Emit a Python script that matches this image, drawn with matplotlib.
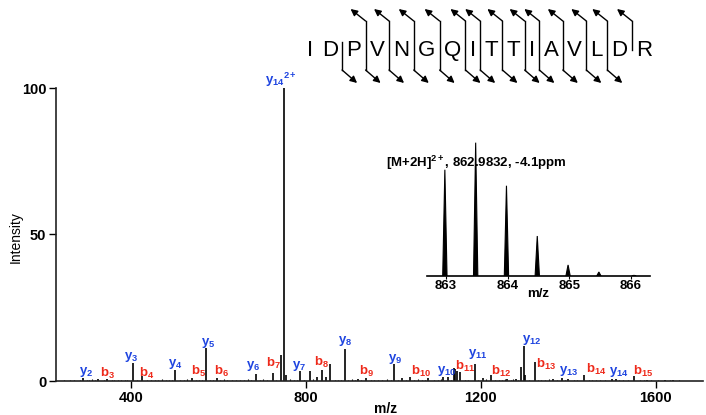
'''
MS/MS spectrum of IDPVNGQITTIAVLDR with b/y ion labels
and precursor isotope inset.
'''
import matplotlib
matplotlib.use('Agg')
from matplotlib import pyplot as plt
from matplotlib.lines import Line2D

plt.rcParams['font.family'] = ['Liberation Sans', 'DejaVu Sans']
plt.rcParams['mathtext.fontset'] = 'custom'
plt.rcParams['mathtext.rm'] = 'Liberation Sans'
plt.rcParams['mathtext.bf'] = 'Liberation Sans:bold'
plt.rcParams['mathtext.it'] = 'Liberation Sans:italic'
plt.rcParams['mathtext.sf'] = 'Liberation Sans'

BLUE = '#1f45e0'
RED = '#ee2a1b'

# major peaks (m/z, relative intensity %)
peak_mz = [290, 326, 345, 404, 425, 502, 539, 573, 596, 686, 724, 743, 750, 755,
           787, 809, 826, 837, 846, 855, 889, 920, 938, 1001, 1020, 1039, 1080,
           1114, 1125, 1138, 1142, 1146, 1153, 1186, 1205, 1224, 1260, 1280,
           1293, 1299, 1302, 1323, 1365, 1386, 1400, 1436, 1499, 1510, 1551,
           1580, 1620, 1640]
peak_int = [1.0, 0.8, 0.6, 6.1, 1.7, 3.8, 1.0, 11.3, 1.0, 2.4, 2.7, 9.0, 100, 2.0,
            3.4, 3.4, 1.5, 3.8, 1.5, 5.8, 11.0, 0.8, 1.0, 5.8, 1.0, 1.5, 1.0,
            1.2, 1.5, 4.5, 4.0, 3.5, 3.1, 5.8, 1.0, 2.0, 0.8, 0.8,
            4.8, 11.9, 2.0, 6.5, 0.8, 0.9, 0.8, 2.0, 0.8, 0.8, 1.8,
            0.5, 0.4, 0.3]

# baseline clutter
noise_mz = [248, 262, 271, 283, 299, 305, 312, 318, 338, 356, 362, 371, 377, 386,
            392, 414, 436, 447, 455, 463, 471, 480, 488, 495, 512, 521, 528, 548,
            556, 563, 581, 589, 604, 612, 620, 631, 641, 650, 659, 667, 675, 696,
            703, 712, 731, 764, 772, 780, 797, 817, 866, 874, 880, 897, 905, 912,
            927, 948, 955, 966, 975, 985, 994, 1011, 1028, 1048, 1057, 1066, 1073,
            1092, 1102, 1108, 1132, 1163, 1171, 1193, 1212, 1232, 1241, 1249, 1256,
            1268, 1274, 1285, 1311, 1330, 1338, 1347, 1355, 1374, 1392, 1412, 1421,
            1447, 1455, 1463, 1472, 1484, 1516, 1526, 1537, 1563, 1572, 1590, 1606,
            1633, 1652]
noise_int = [0.3, 0.4, 0.2, 0.5, 0.3, 0.4, 0.6, 0.3, 0.4, 0.3, 0.5, 0.2, 0.4, 0.3,
             0.5, 0.3, 0.4, 0.2, 0.5, 0.3, 0.6, 0.4, 0.3, 0.5, 0.4, 0.3, 0.6, 0.4,
             0.3, 0.5, 0.4, 0.3, 0.5, 0.6, 0.3, 0.4, 0.5, 0.3, 0.4, 0.6, 0.3, 0.5,
             0.7, 0.4, 0.5, 0.6, 0.4, 0.3, 0.5, 0.6, 0.4, 0.5, 0.3, 0.4, 0.6, 0.3,
             0.5, 0.4, 0.3, 0.5, 0.4, 0.6, 0.3, 0.5, 0.4, 0.3, 0.6, 0.4, 0.5,
             0.3, 0.4, 0.6, 0.5, 0.4, 0.3, 0.5, 0.6, 0.4, 0.3, 0.5, 0.6,
             0.4, 0.7, 0.5, 0.4, 0.3, 0.5, 0.4, 0.6, 0.5, 0.4, 0.3, 0.5,
             0.4, 0.3, 0.5, 0.4, 0.3, 0.5, 0.4, 0.3, 0.4, 0.3, 0.3, 0.3,
             0.2, 0.2]

# ion labels: letter, number, label anchor (m/z, height)
ion_type = ['y', 'b', 'y', 'b', 'y', 'b', 'y', 'b', 'y', 'b', 'y', 'b', 'y', 'b',
            'y', 'b', 'y', 'b', 'y', 'b', 'y', 'b', 'y', 'b', 'y', 'b', 'y']
ion_num = ['2', '3', '3', '4', '4', '5', '5', '6', '6', '7', '7', '8', '8', '9',
           '9', '10', '10', '11', '11', '12', '12', '13', '13', '14', '14', '15', '14']
ion_charge = [''] * 26 + ['2+']
ion_label_mz = [281, 329, 384, 418, 485, 537, 560, 590, 663, 709, 768, 818, 873, 921,
                987, 1040, 1099, 1140, 1170, 1223, 1294, 1326, 1378, 1440, 1493, 1547, 707]
ion_label_h = [3.1, 2.7, 8.2, 2.7, 5.8, 3.1, 13.0, 3.1, 5.1, 6.1, 5.1, 6.5, 13.7, 3.4,
               7.5, 3.1, 3.4, 4.8, 9.2, 3.4, 14.0, 5.8, 3.4, 3.8, 3.1, 3.4, 102.7]

# precursor isotope envelope
iso_mz = [862.98, 863.48, 863.98, 864.48, 864.98, 865.48, 866.05]
iso_int = [79.7, 100, 67.7, 30.0, 8.3, 3.0, 0.5]

sequence = 'IDPVNGQITTIAVLDR'
y_cleave = list(range(3, 16))   # gaps with an upper (y ion) arrow
b_cleave = list(range(2, 15))   # gaps with a lower (b ion) arrow

W, H = 706, 415
fig = plt.figure(figsize=(W / 100, H / 100), dpi=100)

def fx(px):
    return px / W

def fy(py):
    return (H - py) / H

# main spectrum
ax = fig.add_axes([fx(56), fy(381), fx(703) - fx(56), fy(88) - fy(381)])
ax.vlines(noise_mz, 0, noise_int, color='black', lw=0.8)
ax.vlines(peak_mz, 0, peak_int, color='black', lw=1.2)
ax.set_xlim(229, 1708)
ax.set_ylim(0, 100)
for sp in ['top', 'right']:
    ax.spines[sp].set_visible(False)
for sp in ['left', 'bottom']:
    ax.spines[sp].set_linewidth(1.2)
    ax.spines[sp].set_color('#222222')
ax.set_xticks([400, 800, 1200, 1600])
ax.set_yticks([0, 50, 100])
ax.tick_params(direction='out', length=5, width=1, labelsize=10.5, pad=2)
for t in ax.get_xticklabels() + ax.get_yticklabels():
    t.set_fontweight('bold')
ax.set_xlabel('m/z', fontsize=10, fontweight='bold')
ax.xaxis.set_label_coords((386 - 56) / 647, -0.072)
ax.set_ylabel('Intensity', fontsize=10)
ax.yaxis.set_label_coords(-0.051, 0.491)

for kind, num, chg, lx, lh in zip(ion_type, ion_num, ion_charge, ion_label_mz, ion_label_h):
    col = BLUE if kind == 'y' else RED
    label = r'$\mathbf{%s_{%s}}$' % (kind, num)
    if chg:
        label = r'$\mathbf{%s_{%s}{}^{%s}}$' % (kind, num, chg)
    ax.text(lx, lh, label, color=col, fontsize=9.5, ha='left', va='center', clip_on=False)

# inset: precursor isotopes
axi = fig.add_axes([fx(427), fy(276), fx(650) - fx(427), fy(136) - fy(276)])
axi.patch.set_visible(False)
for c, h in zip(iso_mz, iso_int):
    axi.fill([c - 0.035, c, c + 0.035], [0, h, 0], color='black', lw=0.8)
axi.set_xlim(862.69, 866.31)
axi.set_ylim(0, 105)
for sp in ['top', 'right', 'left']:
    axi.spines[sp].set_visible(False)
axi.spines['bottom'].set_linewidth(1.2)
axi.set_yticks([])
axi.set_xticks([863, 864, 865, 866])
axi.tick_params(direction='out', length=2, width=0.8, labelsize=9.5, pad=1)
for t in axi.get_xticklabels():
    t.set_fontweight('bold')
axi.set_xlabel('m/z', fontsize=9.5, fontweight='bold', labelpad=-3)

fig.text(fx(386), fy(163), r'[M+2H]$^{\mathbf{2+}}$, 862.9832, -4.1ppm',
         fontsize=9.5, fontweight='bold', ha='left', va='center')

# peptide sequence with fragmentation marks
fig.canvas.draw()
rend = fig.canvas.get_renderer()
letters = [fig.text(0, fy(50), ch, fontsize=16, ha='center', va='center') for ch in sequence]
widths = [t.get_window_extent(rend).width for t in letters]
gap = 8.6
centers = [310.0]
for i in range(1, len(sequence)):
    centers.append(centers[-1] + widths[i - 1] / 2 + gap + widths[i] / 2)
for t, c in zip(letters, centers):
    t.set_x(fx(c))

arrow = dict(arrowstyle='-|>', color='black', lw=1.0, mutation_scale=10, shrinkA=0, shrinkB=0)
for g in range(1, len(sequence)):
    gx = (centers[g - 1] + widths[g - 1] / 2 + centers[g] - widths[g] / 2) / 2
    top = g in y_cleave
    bot = g in b_cleave
    if not (top or bot):
        continue
    y1 = 21 if top else 42
    y2 = 70 if bot else 50
    fig.add_artist(Line2D([fx(gx), fx(gx)], [fy(y1), fy(y2)], color='black', lw=1.0,
                          transform=fig.transFigure))
    if top:
        fig.add_artist(plt.Annotation('', xy=(fx(gx - 15), fy(9)), xytext=(fx(gx), fy(21)),
                                      xycoords='figure fraction', arrowprops=arrow))
    if bot:
        fig.add_artist(plt.Annotation('', xy=(fx(gx + 15), fy(83)), xytext=(fx(gx), fy(70)),
                                      xycoords='figure fraction', arrowprops=arrow))

plt.savefig('out.png', dpi=100)
